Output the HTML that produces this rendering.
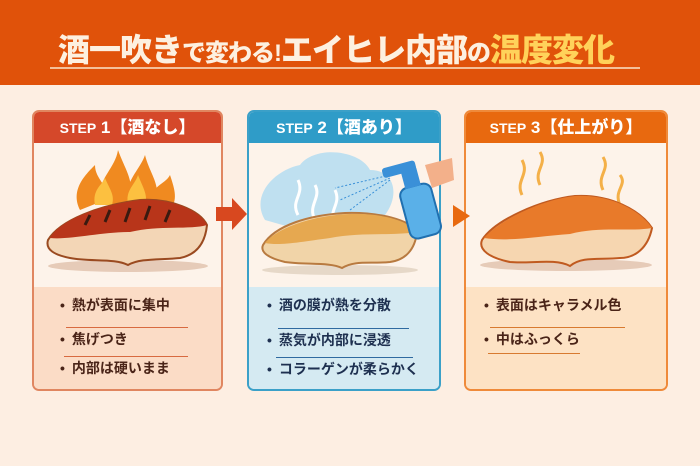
<!DOCTYPE html>
<html><head><meta charset="utf-8"><style>
*{margin:0;padding:0;box-sizing:border-box}
body{width:700px;height:466px;overflow:hidden;background:#fdeee2;font-family:"Liberation Sans","Noto Sans CJK JP",sans-serif;position:relative}
.hdr{position:absolute;left:0;top:0;width:700px;height:85px;background:#e0520a}
.title{position:absolute;left:58px;top:30px;font-size:32px;font-weight:900;color:#fdf0e0;white-space:nowrap;letter-spacing:-1px;line-height:40px}
.title .s{font-size:24px}.title .y{color:#ffd25a}
.line{position:absolute;left:50px;top:67px;width:590px;height:2px;background:#f4c09a}
.card{position:absolute;top:110px;height:281px;border:2px solid;border-radius:7px;overflow:hidden;background:#fdf3ea}
.card .h{height:31px;color:#fff;font-weight:900;font-size:17px;text-align:center;line-height:31px}
.card .h b{font-size:14px;letter-spacing:0}
.txt{position:absolute;left:0;right:0;top:175px;bottom:0}
.it{position:absolute;font-size:14px;font-weight:700;color:#4a2418;white-space:nowrap}
.it:before{content:"•";margin-right:7px}
.ul{position:absolute;height:1px}
svg{position:absolute}
</style></head><body>
<div class="hdr"></div>
<div class="title">酒一吹き<span class="s">で変わる!</span>エイヒレ内部<span class="s">の</span><span class="y">温度変化</span></div>
<div class="line"></div>

<div class="card" style="left:32px;width:191px;border-color:#e08660">
<div class="h" style="background:#d5482a"><b>STEP</b> 1【酒なし】</div>
<div class="txt" style="background:#fbdcc6">
<div class="it" style="left:26px;top:8px;color:#4a2418">熱が表面に集中</div>
<div class="ul" style="left:32px;top:40px;width:122px;background:#d86a40"></div>
<div class="it" style="left:26px;top:42px">焦げつき</div>
<div class="ul" style="left:30px;top:69px;width:124px;background:#d86a40"></div>
<div class="it" style="left:26px;top:71px">内部は硬いまま</div>
</div></div>

<div class="card" style="left:247px;width:194px;border-color:#3ba0c8">
<div class="h" style="background:#2f9cc8"><b>STEP</b> 2【酒あり】</div>
<div class="txt" style="background:#d5eaf2">
<div class="it" style="left:18px;top:8px;color:#1e3050">酒の膜が熱を分散</div>
<div class="ul" style="left:29px;top:41px;width:131px;background:#2f6aa0"></div>
<div class="it" style="left:18px;top:43px;color:#1e3050">蒸気が内部に浸透</div>
<div class="ul" style="left:27px;top:70px;width:137px;background:#2f6aa0"></div>
<div class="it" style="left:18px;top:72px;color:#1e3050">コラーゲンが柔らかく</div>
</div></div>

<div class="card" style="left:464px;width:204px;border-color:#ef8a3a">
<div class="h" style="background:#e8690f"><b>STEP</b> 3【仕上がり】</div>
<div class="txt" style="background:#fde2c4">
<div class="it" style="left:18px;top:8px">表面はキャラメル色</div>
<div class="ul" style="left:24px;top:40px;width:135px;background:#d87a30"></div>
<div class="it" style="left:18px;top:42px">中はふっくら</div>
<div class="ul" style="left:22px;top:66px;width:92px;background:#d87a30"></div>
</div></div>

<svg width="700" height="466" viewBox="0 0 700 466" style="left:0;top:0">
<polygon points="216,207 232,207 232,198 247,214 232,230 232,221 216,221" fill="#d8481f"/>
<polygon points="453,205 470,216 453,227" fill="#e8690f"/>
<g fill="#f08a20"><path d="M80,210 C70,190 85,175 95,165 C95,180 110,185 105,200 Z"/><path d="M100,205 C95,180 115,170 118,150 C125,170 135,180 130,205Z"/><path d="M125,205 C125,180 140,170 145,155 C150,175 162,185 155,205Z"/><path d="M150,205 C150,185 165,185 170,175 C175,190 178,200 170,210Z"/></g>
<g fill="#fcc040"><path d="M95,205 C92,190 102,185 105,178 C110,190 115,195 112,205Z"/><path d="M128,205 C125,190 135,185 138,175 C144,190 148,195 145,205Z"/></g>
<ellipse cx="128" cy="266" rx="80" ry="6" fill="#e6cbb8"/>
<path d="M48,240 C60,220 100,205 140,200 C170,198 200,210 207,225 C205,245 195,255 180,258 C160,260 140,258 128,265 C115,258 90,262 70,258 C55,255 45,250 48,240Z" fill="#f3d6b6" stroke="#9a4a20" stroke-width="2"/>
<path d="M50,238 C60,220 100,205 140,200 C170,198 200,210 207,225 C190,230 160,225 130,232 C100,232 70,240 50,238Z" fill="#b8351a"/>
<g stroke="#3a1a10" stroke-width="3"><line x1="85" y1="225" x2="90" y2="215"/><line x1="105" y1="222" x2="110" y2="210"/><line x1="125" y1="222" x2="130" y2="208"/><line x1="145" y1="220" x2="150" y2="206"/><line x1="165" y1="222" x2="170" y2="210"/></g>
<path d="M265,220 C250,195 275,170 300,165 C315,145 360,150 370,170 C395,170 400,195 385,215 L300,230Z" fill="#bfe0f0"/>
<g stroke="#fff" stroke-width="3" fill="none"><path d="M298,215 C290,200 305,195 298,180"/><path d="M315,220 C307,205 322,198 315,185"/><path d="M335,225 C327,210 342,205 335,190"/></g>
<ellipse cx="340" cy="270" rx="78" ry="5" fill="#e6d8c8"/>
<path d="M263,245 C275,225 310,215 345,213 C380,212 410,220 417,232 C415,250 405,260 390,262 C370,264 355,260 342,268 C330,262 305,265 285,262 C268,258 260,252 263,245Z" fill="#f1d4a8" stroke="#b87a40" stroke-width="2"/>
<path d="M265,243 C280,225 320,215 350,214 C385,213 410,222 416,232 C395,236 360,232 330,238 C300,242 280,246 265,243Z" fill="#e6a850"/>
<g transform="rotate(-15 420 205)"><rect x="403" y="185" width="32" height="52" rx="8" fill="#5ab0e8" stroke="#2070b0" stroke-width="2"/><rect x="410" y="168" width="16" height="18" fill="#3a90d8"/><rect x="392" y="160" width="34" height="10" rx="3" fill="#3a90d8"/></g>
<path d="M425,165 L452,158 L454,180 L432,188 Z" fill="#f3b08a"/>
<g stroke="#3a90d8" stroke-width="1" stroke-dasharray="2 2"><line x1="390" y1="175" x2="335" y2="188"/><line x1="390" y1="178" x2="340" y2="200"/><line x1="390" y1="180" x2="350" y2="210"/></g>
<g stroke="#f4b048" stroke-width="3" fill="none"><path d="M522,195 C515,180 530,175 522,160"/><path d="M540,185 C533,170 548,165 540,152"/><path d="M603,190 C596,175 611,170 603,157"/><path d="M620,205 C613,190 628,185 620,175"/></g>
<ellipse cx="566" cy="265" rx="86" ry="6" fill="#e6cbb8"/>
<path d="M482,240 C495,220 540,200 575,196 C610,194 640,210 652,228 C648,248 635,258 620,258 C600,260 582,256 570,266 C555,258 530,264 510,262 C490,258 478,250 482,240Z" fill="#f6d6b0" stroke="#c05a20" stroke-width="2"/>
<path d="M484,238 C500,220 540,200 575,196 C610,194 640,210 652,228 C630,232 600,226 570,234 C540,236 510,242 484,238Z" fill="#e87a2a"/>
</svg>
</body></html>
